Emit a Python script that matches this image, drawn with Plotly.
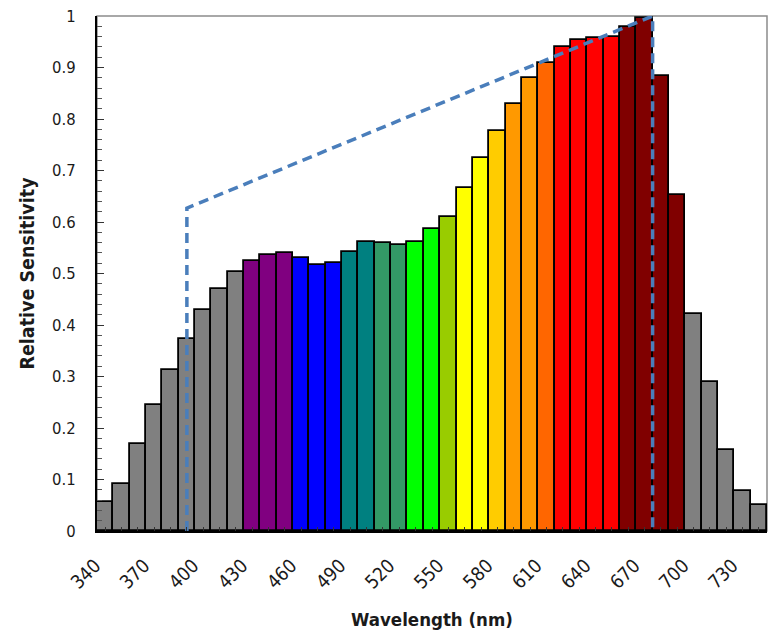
import plotly.graph_objects as go

# Data
wavelengths = list(range(340, 750, 10))
sensitivity = [
    0.057, 0.091, 0.168, 0.244, 0.313, 0.372, 0.430, 0.469, 0.503,   # 340-420
    0.524, 0.535, 0.540,                                             # 430-450
    0.530, 0.517, 0.521,                                             # 460-480
    0.542, 0.562,                                                    # 490-500
    0.559, 0.555,                                                    # 510-520
    0.562, 0.586,                                                    # 530-540
    0.610,                                                           # 550
    0.666, 0.725,                                                    # 560-570
    0.777,                                                           # 580
    0.829, 0.880,                                                    # 590-600
    0.909,                                                           # 610
    0.939, 0.953, 0.957, 0.960,                                      # 620-650
    0.978, 0.996, 0.884, 0.652,                                      # 660-690
    0.421, 0.289, 0.157, 0.078, 0.050,                               # 700-740
]
bar_colors = (
    ["#808080"] * 9 + ["#800080"] * 3 + ["#0000FF"] * 3 + ["#008080"] * 2 +
    ["#339966"] * 2 + ["#00FF00"] * 2 + ["#99CC00"] * 1 + ["#FFFF00"] * 2 +
    ["#FFCC00"] * 1 + ["#FF9900"] * 2 + ["#FF6600"] * 1 + ["#FF0000"] * 4 +
    ["#800000"] * 4 + ["#808080"] * 5
)
ideal_x = [390, 390, 675, 675]
ideal_y = [0, 0.627, 1.0, 0]
tick_vals = list(range(340, 740, 30))
tick_text = [str(v) for v in tick_vals]
y_ticks = [round(0.1 * i, 1) for i in range(11)]
y_text = ["0", "0.1", "0.2", "0.3", "0.4", "0.5", "0.6", "0.7", "0.8", "0.9", "1"]

FONT = "DejaVu Sans Condensed, Roboto, sans-serif"

fig = go.Figure()
fig.add_trace(go.Bar(
    x=wavelengths, y=sensitivity, width=10,
    marker=dict(color=bar_colors, line=dict(color="black", width=1.8)),
    showlegend=False,
))
fig.add_trace(go.Scatter(
    x=ideal_x, y=ideal_y, mode="lines",
    line=dict(color="#4A7EBB", width=3.5, dash="10px,6px"),
    showlegend=False,
))

fig.add_shape(type="rect", xref="paper", yref="paper", x0=0, x1=1, y0=0, y1=1,
              line=dict(color="#8c8c8c", width=1.5), layer="below")

fig.update_layout(
    width=768, height=633,
    margin=dict(l=97, r=1, t=16, b=102),
    paper_bgcolor="white", plot_bgcolor="white",
    bargap=0,
    font=dict(family=FONT, color="#1a1a1a", size=17),
    xaxis=dict(
        range=[335, 745], tickmode="array", tickvals=tick_vals, ticktext=tick_text,
        tickangle=-45, ticks="inside", ticklen=4, tickcolor="#333",
        minor=dict(ticks="inside", dtick=10, tick0=340, ticklen=4, tickcolor="#333"),
        showline=True, linecolor="black", linewidth=2, showgrid=False, zeroline=False,
        tickfont=dict(size=19, family=FONT),
        ticklabelstandoff=14, ticklabelshift=-10,
        title=dict(text="<b>Wavelength (nm)</b>", font=dict(size=18.5, family=FONT), standoff=21),
    ),
    yaxis=dict(
        range=[0, 1], tickmode="array", tickvals=y_ticks, ticktext=y_text,
        ticks="inside", ticklen=7, tickcolor="#333",
        minor=dict(ticks="inside", dtick=0.02, tick0=0, ticklen=5, tickcolor="#555"),
        showline=True, linecolor="black", linewidth=2, showgrid=False, zeroline=False,
        tickfont=dict(size=16.5, family=FONT),
        ticklabelstandoff=16,
        title=dict(text="<b>Relative Sensitivity</b>", font=dict(size=19.5, family=FONT), standoff=12),
    ),
)

fig.write_html(
    "out.html",
    config={"displayModeBar": False},
    post_script="document.body.style.margin='0';document.body.style.overflow='hidden';",
)
